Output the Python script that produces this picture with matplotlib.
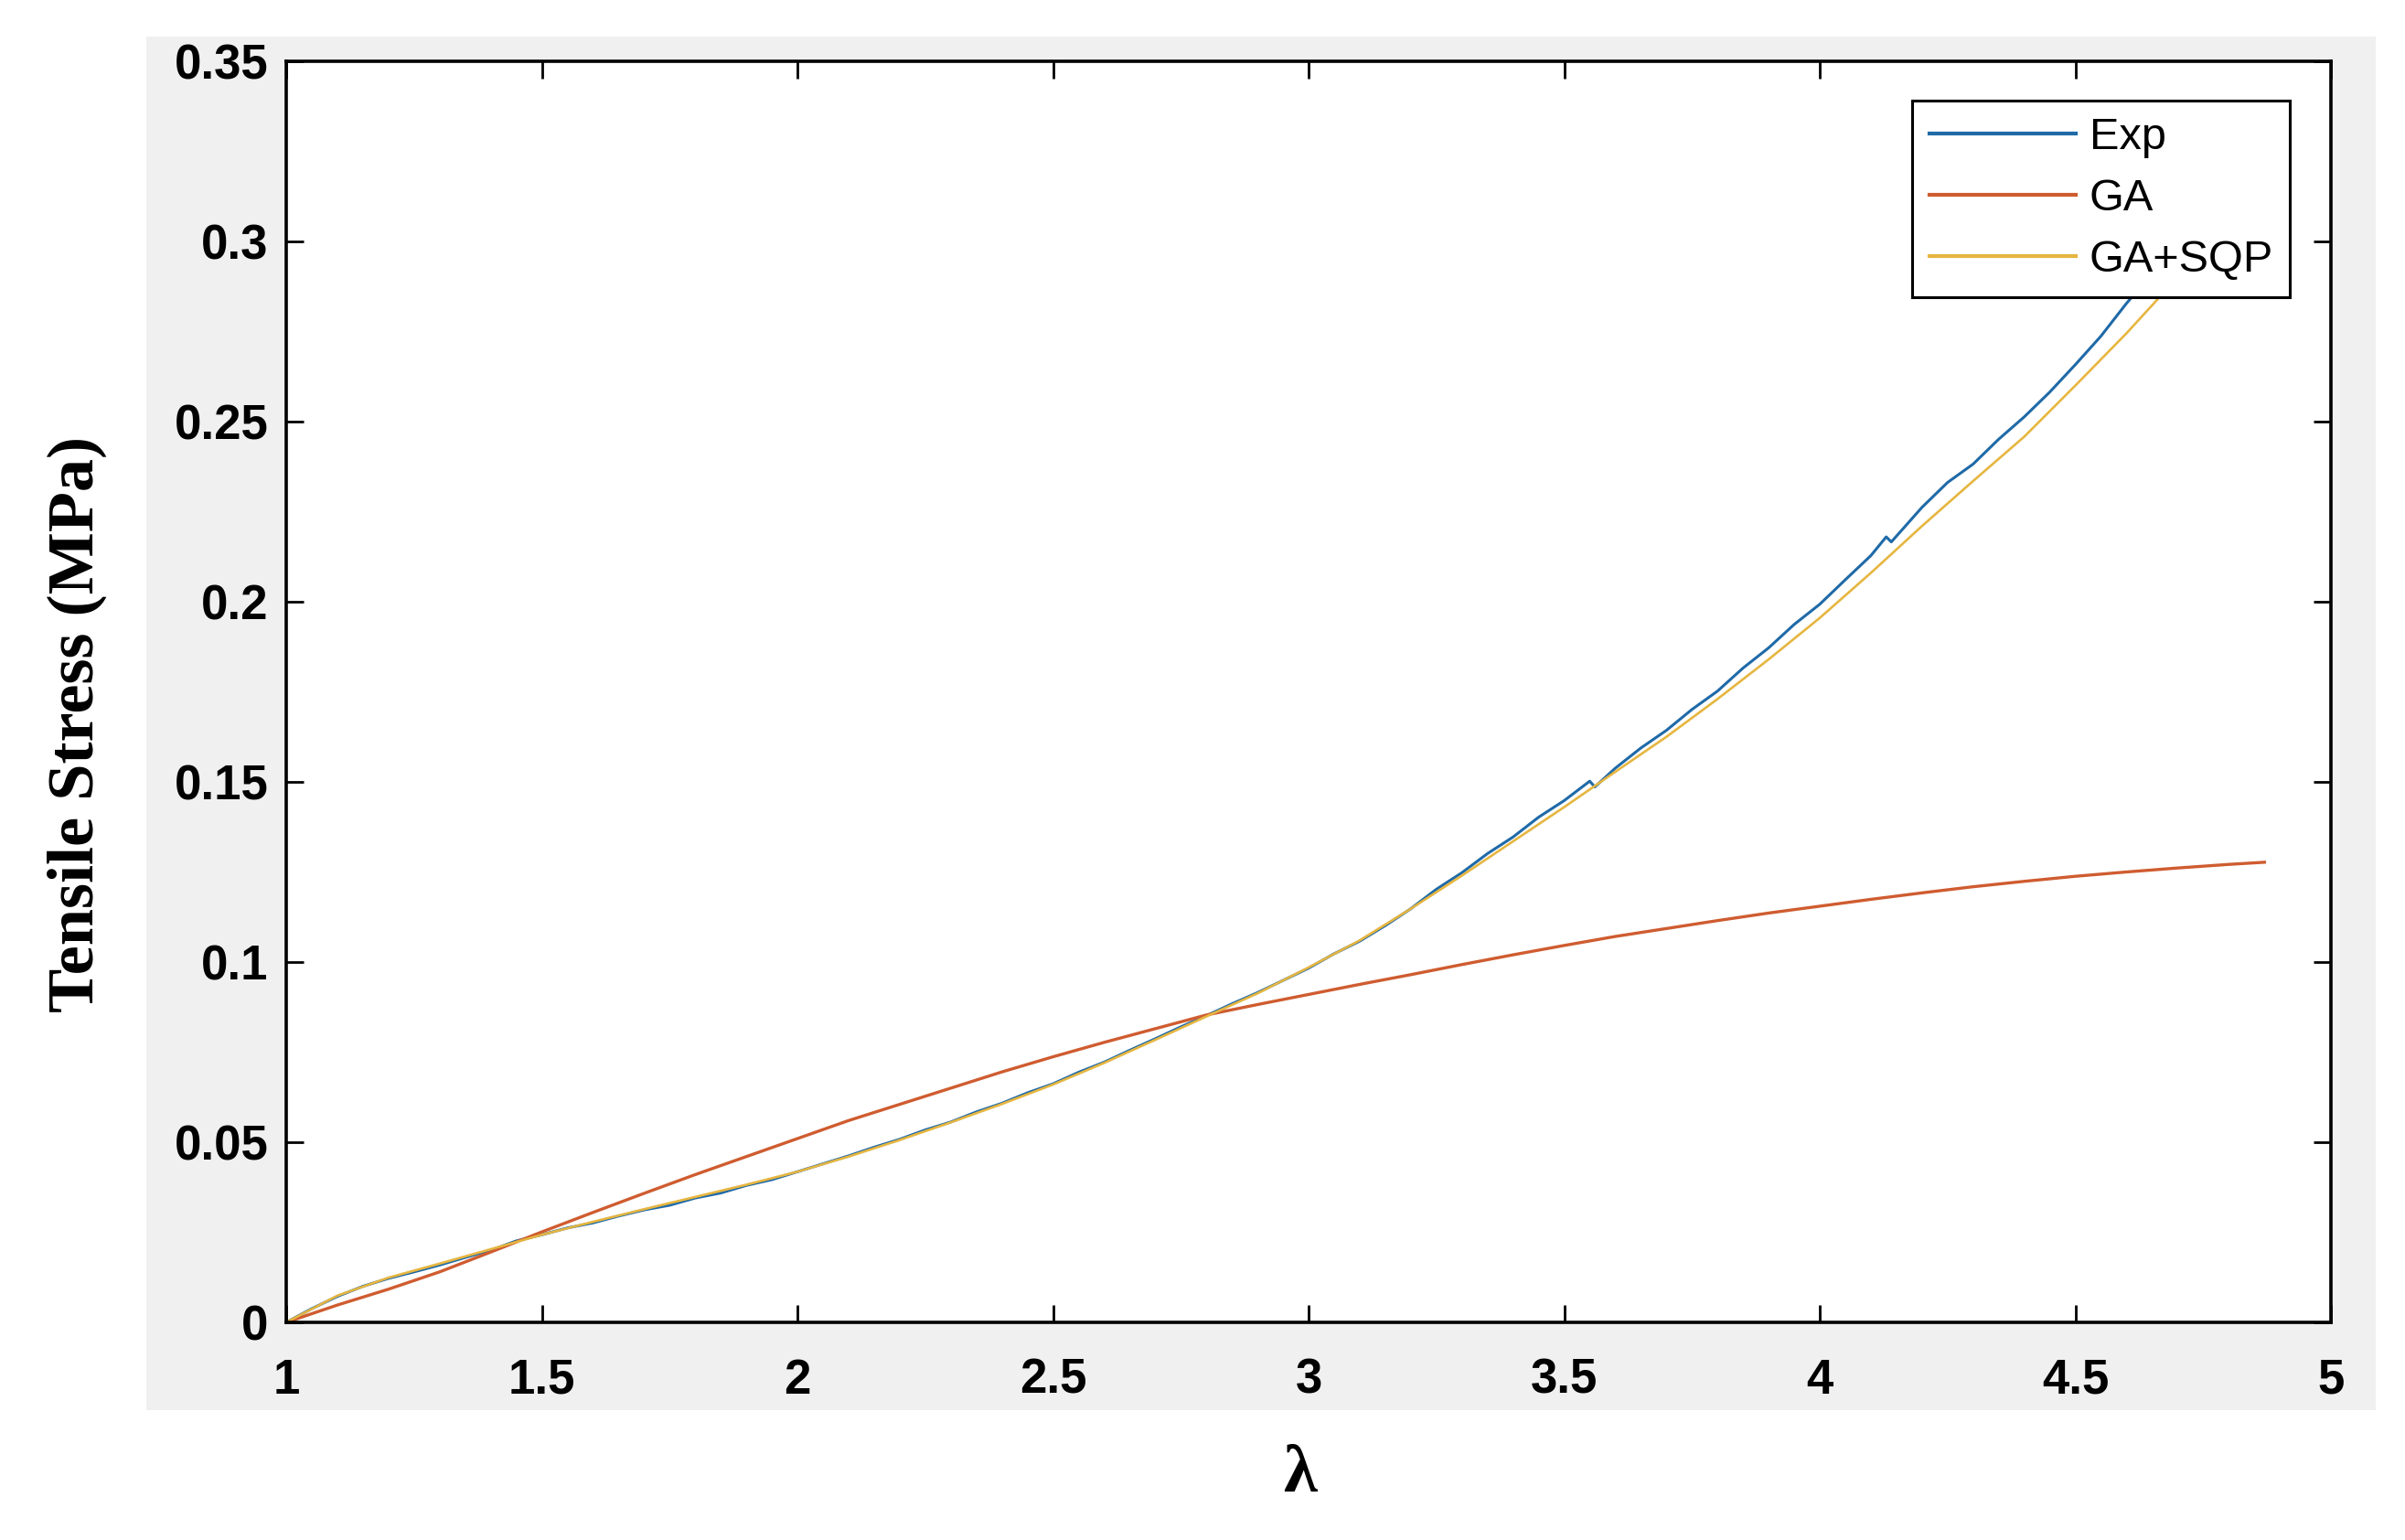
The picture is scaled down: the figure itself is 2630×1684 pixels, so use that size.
import numpy as np
import matplotlib
matplotlib.use("Agg")
import matplotlib.pyplot as plt
from matplotlib.patches import Rectangle

# ---- data ----
exp_lam = [1.00, 1.05, 1.10, 1.15, 1.20, 1.25, 1.30, 1.35, 1.40, 1.45,
           1.50, 1.55, 1.60, 1.65, 1.70, 1.75, 1.80, 1.85, 1.90, 1.95,
           2.00, 2.05, 2.10, 2.15, 2.20, 2.25, 2.30, 2.35, 2.40, 2.45,
           2.50, 2.55, 2.60, 2.65, 2.70, 2.75, 2.80, 2.85, 2.90, 2.95,
           3.00, 3.05, 3.10, 3.15, 3.20, 3.25, 3.30, 3.35, 3.40, 3.45,
           3.50, 3.55, 3.56, 3.60, 3.65, 3.70, 3.75, 3.80, 3.85, 3.90,
           3.95, 4.00, 4.05, 4.10, 4.13, 4.14, 4.20, 4.25, 4.30, 4.35,
           4.40, 4.45, 4.50, 4.55, 4.60, 4.65, 4.70, 4.75, 4.80, 4.85]
exp_stress = [0.0000, 0.0038, 0.0072, 0.0100, 0.0122, 0.0140, 0.0159, 0.0180, 0.0200, 0.0226,
              0.0243, 0.0262, 0.0276, 0.0295, 0.0312, 0.0325, 0.0345, 0.0359, 0.0380, 0.0396,
              0.0418, 0.0440, 0.0462, 0.0486, 0.0508, 0.0534, 0.0556, 0.0584, 0.0608, 0.0637,
              0.0662, 0.0694, 0.0722, 0.0755, 0.0787, 0.0820, 0.0851, 0.0884, 0.0915, 0.0949,
              0.0983, 0.1023, 0.1058, 0.1101, 0.1148, 0.1202, 0.1248, 0.1301, 0.1347, 0.1402,
              0.1448, 0.1502, 0.1486, 0.1538, 0.1594, 0.1643, 0.1701, 0.1752, 0.1816, 0.1872,
              0.1937, 0.1993, 0.2061, 0.2128, 0.2180, 0.2166, 0.2262, 0.2331, 0.2382, 0.2451,
              0.2513, 0.2582, 0.2658, 0.2737, 0.2828, 0.2911, 0.3000, 0.3090, 0.3180, 0.3270]

ga_lam = [1.00, 1.10, 1.20, 1.30, 1.40, 1.50, 1.60, 1.70, 1.80, 1.90,
          2.00, 2.10, 2.20, 2.30, 2.40, 2.50, 2.60, 2.70, 2.80, 2.90,
          3.00, 3.10, 3.20, 3.30, 3.40, 3.50, 3.60, 3.70, 3.80, 3.90,
          4.00, 4.10, 4.20, 4.30, 4.40, 4.50, 4.60, 4.70, 4.80, 4.87]
ga_stress = [0.0000, 0.0048, 0.0092, 0.0140, 0.0195, 0.0251, 0.0305, 0.0358, 0.0410, 0.0460,
             0.0510, 0.0560, 0.0605, 0.0650, 0.0695, 0.0737, 0.0777, 0.0815, 0.0853, 0.0882,
             0.0910, 0.0938, 0.0965, 0.0993, 0.1020, 0.1046, 0.1071, 0.1093, 0.1115, 0.1136,
             0.1155, 0.1174, 0.1192, 0.1209, 0.1224, 0.1238, 0.1250, 0.1261, 0.1271, 0.1277]

sqp_lam = [1.00, 1.10, 1.20, 1.30, 1.40, 1.50, 1.60, 1.70, 1.80, 1.90,
           2.00, 2.10, 2.20, 2.30, 2.40, 2.50, 2.60, 2.70, 2.80, 2.90,
           3.00, 3.10, 3.20, 3.30, 3.40, 3.50, 3.60, 3.70, 3.80, 3.90,
           4.00, 4.10, 4.20, 4.30, 4.40, 4.50, 4.60, 4.70, 4.80, 4.87]
sqp_stress = [0.0000, 0.0074, 0.0124, 0.0163, 0.0203, 0.0243, 0.0279, 0.0314, 0.0348, 0.0382,
              0.0418, 0.0460, 0.0506, 0.0555, 0.0606, 0.0660, 0.0720, 0.0784, 0.0849, 0.0913,
              0.0985, 0.1060, 0.1148, 0.1240, 0.1335, 0.1430, 0.1528, 0.1625, 0.1730, 0.1840,
              0.1955, 0.2080, 0.2210, 0.2335, 0.2458, 0.2600, 0.2745, 0.2900, 0.3050, 0.3160]

x_ticks = [1, 1.5, 2, 2.5, 3, 3.5, 4, 4.5, 5]
x_tick_labels = ["1", "1.5", "2", "2.5", "3", "3.5", "4", "4.5", "5"]
y_ticks = [0, 0.05, 0.1, 0.15, 0.2, 0.25, 0.3, 0.35]
y_tick_labels = ["0", "0.05", "0.1", "0.15", "0.2", "0.25", "0.3", "0.35"]

W, H = 2630, 1684
fig = plt.figure(figsize=(W / 100, H / 100), dpi=100)
fig.patch.set_facecolor("white")

# grey matlab figure area behind the axes
fig.add_artist(Rectangle((160 / W, 1 - 1542 / H), (2598 - 160) / W, (1542 - 40) / H,
                         transform=fig.transFigure, facecolor="#f0f0f0",
                         edgecolor="none", zorder=-1))

ax = fig.add_axes([313 / W, 1 - 1446 / H, (2549 - 313) / W, (1446 - 67) / H])
ax.set_facecolor("white")

ax.plot(exp_lam, exp_stress, color="#1f6aa8", lw=2.2, label="Exp")
ax.plot(ga_lam, ga_stress, color="#cf5c30", lw=2.4, label="GA")
ax.plot(sqp_lam, sqp_stress, color="#e6b640", lw=1.9, label="GA+SQP")

ax.set_xlim(1, 5)
ax.set_ylim(0, 0.35)
ax.set_xticks(x_ticks)
ax.set_xticklabels(x_tick_labels)
ax.set_yticks(y_ticks)
ax.set_yticklabels(y_tick_labels)

for lab in ax.get_xticklabels() + ax.get_yticklabels():
    lab.set_fontfamily("Liberation Sans")
    lab.set_fontweight("bold")
    lab.set_fontsize(38)

ax.tick_params(axis="both", direction="in", length=14, width=2,
               top=True, right=True, colors="black")
ax.tick_params(axis="x", pad=28)
ax.tick_params(axis="y", pad=14)
for sp in ax.spines.values():
    sp.set_linewidth(2.6)
    sp.set_color("black")

leg = ax.legend(loc="upper right", bbox_to_anchor=(0.980, 0.969),
                borderaxespad=0, fancybox=False, framealpha=1,
                edgecolor="black", handlelength=3.3, handletextpad=0.3,
                labelspacing=0.45, borderpad=0.38,
                prop=dict(family="Liberation Sans", size=35))
leg.get_frame().set_linewidth(2.2)
for line in leg.get_lines():
    line.set_linewidth(3)

fig.text(84 / W, 1 - 792 / H, "Tensile Stress (MPa)", rotation=90,
         ha="center", va="center", family="Liberation Serif",
         weight="bold", size=52)
fig.text(1422 / W, 1 - 1613 / H, "λ", ha="center", va="center",
         family="Liberation Serif", weight="bold", size=54)

fig.savefig("out.png", dpi=100)
